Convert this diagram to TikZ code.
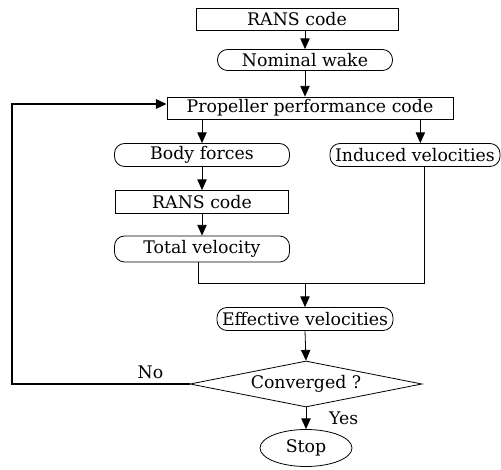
\documentclass[tikz,border=0pt]{standalone}
\usepackage{fontspec}
\setmainfont{DejaVu Serif}
\usetikzlibrary{arrows.meta,shapes.geometric}

\begin{document}
\begin{tikzpicture}[x=0.75pt, y=-0.75pt,
    every node/.style={font=\fontsize{13}{15}\selectfont, inner sep=0pt},
    codebox/.style={draw, line width=0.6pt, rectangle},
    databox/.style={draw, line width=0.6pt, rectangle, rounded corners=7.5pt},
    >={Triangle[length=8pt, width=7pt]}]
    \useasboundingbox (0,0) rectangle (501,470);

    % main chain
    \node[codebox, minimum width=151.5pt, minimum height=16.5pt] (rans) at (297,19) {RANS code};
    \node[databox, minimum width=131.25pt, minimum height=15.75pt] (wake) at (305,60) {Nominal wake};
    \node[codebox, minimum width=214.5pt, minimum height=16.5pt] (prop) at (310,108) {Propeller performance code};

    % two branches
    \node[databox, minimum width=131.25pt, minimum height=17.25pt] (body) at (202,155) {Body forces};
    \node[databox, minimum width=127.5pt, minimum height=17.25pt] (induced) at (415,155) {Induced velocities};
    \node[codebox, minimum width=129.75pt, minimum height=17.25pt] (ransb) at (202,202) {RANS code};
    \node[databox, minimum width=131.25pt, minimum height=19.5pt] (total) at (202,249) {Total velocity};

    % merge and test
    \coordinate (join) at (305,283);
    \node[databox, minimum width=132pt, minimum height=17.25pt] (eff) at (305,319) {Effective velocities};
    \node[draw, line width=0.6pt, diamond, shape aspect=5, minimum width=174pt, minimum height=34.5pt] (conv) at (306,384) {Converged ?};
    \node[draw, line width=0.6pt, ellipse, minimum width=69pt, minimum height=27.75pt] (stop) at (306,448) {Stop};
    \coordinate (corner) at (12,384);

    % connectors
    \draw[->, line width=0.6pt] (wake.north |- rans.south) -- (wake.north);
    \draw[->, line width=0.6pt] (wake.south) -- (wake.south |- prop.north);
    \draw[->, line width=0.6pt] (body.north |- prop.south) -- (body.north);
    \draw[->, line width=0.6pt] ([xshift=4pt]induced.north |- prop.south) -- ([xshift=4pt]induced.north);
    \draw[->, line width=0.6pt] (body.south) -- (ransb.north);
    \draw[->, line width=0.6pt] (ransb.south) -- (total.north);
    \draw[line width=0.6pt] ([xshift=-3pt]total.south) |- (join);
    \draw[line width=0.6pt] ([xshift=7pt]induced.south) |- (join);
    \draw[->, line width=0.6pt] (join) -- (eff.north);
    \draw[->, line width=0.6pt] (eff.south) -- (conv.north);
    \draw[->, line width=0.6pt] (conv.south) -- node[right=17pt, pos=0.5] {Yes} (stop.north);

    % iteration loop
    \draw[->, line width=1.5pt] (conv.west) -- node[above=3pt, pos=0.22] {No} (corner) |- ([yshift=3pt]prop.west);
\end{tikzpicture}
\end{document}
